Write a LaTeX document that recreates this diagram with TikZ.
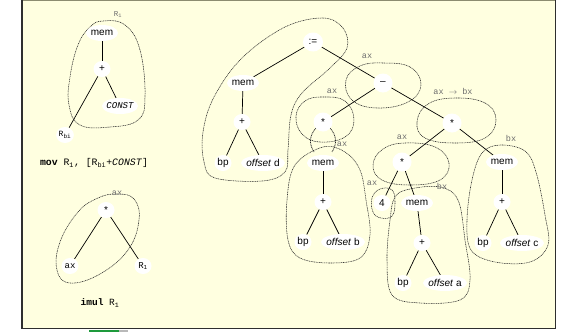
\documentclass[tikz,border=0pt]{standalone}
\usepackage{fontspec}
\setmainfont{Liberation Sans}
\setsansfont{Liberation Sans}
\setmonofont{Liberation Mono}
\usetikzlibrary{shapes.geometric}
\definecolor{bgy}{HTML}{FFFFE0}
\definecolor{lblg}{HTML}{6E6E6E}
\definecolor{frm}{HTML}{2E2E2E}
\definecolor{frmtop}{HTML}{8C8C70}
\definecolor{grn}{HTML}{1E9A3C}
\pgfdeclarelayer{bg}
\pgfdeclarelayer{bgbg}
\pgfsetlayers{bgbg,bg,main}
\newcommand{\myast}{\raisebox{-2.2pt}{*}}
\begin{document}
\begin{tikzpicture}[x=1pt,y=-1pt,
 tn/.style={fill=white, ellipse, inner xsep=-4pt, inner ysep=0pt, minimum height=16pt, minimum width=17pt, font=\fontsize{10}{12}\selectfont\sffamily},
 mn/.style={tn, minimum width=32pt},
 on/.style={tn, minimum width=44pt},
 tt/.style={font=\fontsize{9}{11}\selectfont\ttfamily},
 lbl/.style={text=lblg, font=\fontsize{8.5}{10}\selectfont\ttfamily, inner sep=0pt},
 blob/.style={draw=black!85, line width=0.55pt, dash pattern=on 1pt off 0.7pt},
 ed/.style={draw=black, line width=0.7pt}]
\useasboundingbox (0,0) rectangle (562,332);
% frame
\begin{pgfonlayer}{bgbg}
\fill[bgy] (21,0) rectangle (555,328);
\draw[frmtop, line width=1pt] (21,0.5) -- (555,0.5);
\draw[frm, line width=1.5pt] (21.75,0) -- (21.75,329);
\draw[frm, line width=1.5pt] (21,328.5) -- (556,328.5);
\draw[frm, line width=1.5pt] (555.25,0) -- (555.25,329);
\fill[grn] (89,330) rectangle (119,332);
\fill[gray!55] (119,330) rectangle (128,332);
\end{pgfonlayer}

% ---------- left top tree ----------
\node[mn] (m1) at (102,33) {mem};
\node[tn] (p1) at (102,69) {+};
\node[tn, minimum width=36pt, font=\fontsize{9}{11}\selectfont\ttfamily\itshape] (c1) at (120,106) {CONST};
\node[tn, tt, inner xsep=0pt, font=\fontsize{8}{10}\selectfont\ttfamily] (r1) at (65,135) {R\textsubscript{bi}};
\node[lbl, font=\fontsize{7.5}{9}\selectfont\ttfamily] (lr1) at (118,15) {R\textsubscript{1}};
\node[font=\fontsize{9.8}{11}\selectfont\ttfamily] (mov) at (94,163) {\textbf{mov} R\textsubscript{1}, [R\textsubscript{bi}+\textit{CONST}]};

% ---------- left bottom tree ----------
\node[lbl] (lax) at (117,193) {ax};
\node[tn] (s1) at (106,210) {\myast};
\node[tn, tt] (a1) at (70,266) {ax};
\node[tn, tt] (r2) at (143,266) {R\textsubscript{1}};
\node[font=\fontsize{9.5}{11}\selectfont\ttfamily] (imul) at (100,303) {\textbf{imul} R\textsubscript{1}};

% ---------- right tree ----------
\node[tn, minimum width=20pt, minimum height=19pt] (asg) at (313,42) {:=};
\node[mn] (md) at (243,83) {mem};
\node[tn] (pd) at (242,122) {+};
\node[tn] (bpd) at (223,163) {bp};
\node[on] (od) at (263,163) {\textit{offset} d};

\node[tn, minimum height=19pt, minimum width=19pt] (mi) at (383,83) {--};
\node[tn, minimum height=19pt, minimum width=19pt] (sm) at (323,122) {\myast};
\node[mn] (mb) at (323,163) {mem};
\node[tn] (pb) at (323,202) {+};
\node[tn] (bpb) at (303,242) {bp};
\node[on] (ob) at (343,242) {\textit{offset} b};

\node[tn, minimum height=19pt, minimum width=19pt] (sr) at (452,123) {\myast};
\node[tn, minimum height=19pt, minimum width=19pt] (sl) at (402,162) {\myast};
\node[tn] (four) at (382,203) {4};
\node[mn] (ma) at (417,203) {mem};
\node[tn] (pa) at (422,243) {+};
\node[tn] (bpa) at (403,283) {bp};
\node[on] (oa) at (445,283) {\textit{offset} a};

\node[mn] (mc) at (502,162) {mem};
\node[tn] (pc) at (502,202) {+};
\node[tn] (bpc) at (483,243) {bp};
\node[on] (oc) at (522,243) {\textit{offset} c};

% labels
\node[lbl] (l1) at (367,56) {ax};
\node[lbl] (l2) at (332,91) {ax};
\node[lbl] (l3) at (342,144) {ax};
\node[lbl] (l4) at (453,91) {ax $\rightarrow$ bx};
\node[lbl] (l5) at (402,137) {ax};
\node[lbl] (l6) at (511,138) {bx};
\node[lbl] (l7) at (372,183) {ax};
\node[lbl] (l8) at (442,186) {bx};

\begin{pgfonlayer}{bg}
% edges
\draw[ed] (m1) -- (p1);
\draw[ed] (p1) -- (r1);
\draw[ed] (p1) -- (c1);
\draw[ed] (s1) -- (a1);
\draw[ed] (s1) -- (r2);
\draw[ed] (asg) -- (md);
\draw[ed] (asg) -- (mi);
\draw[ed] (md) -- (pd);
\draw[ed] (pd) -- (bpd);
\draw[ed] (pd) -- (od);
\draw[ed] (mi) -- (sm);
\draw[ed] (mi) -- (sr);
\draw[ed] (mb) -- (pb);
\draw[ed] (pb) -- (bpb);
\draw[ed] (pb) -- (ob);
\draw[ed] (sr) -- (sl);
\draw[ed] (sr) -- (mc);
\draw[ed] (sl) -- (four);
\draw[ed] (sl) -- (ma);
\draw[ed] (ma) -- (pa);
\draw[ed] (pa) -- (bpa);
\draw[ed] (pa) -- (oa);
\draw[ed] (mc) -- (pc);
\draw[ed] (pc) -- (bpc);
\draw[ed] (pc) -- (oc);

% blobs
\draw[blob] plot[smooth cycle, tension=0.7] coordinates {(103,21) (125,25) (140,50) (145,97) (138,120) (110,127) (80,125) (69,105) (70,77) (78,45) (90,27)};
\draw[blob] plot[smooth cycle, tension=0.7] coordinates {(117,194) (134,199) (139,220) (128,250) (100,274) (70,283) (57,270) (60,242) (78,212) (98,198)};
\draw[blob] plot[smooth cycle, tension=0.6] coordinates {(323,18) (343,28) (347,48) (330,68) (302,93) (291,115) (288,150) (285,172) (262,181) (215,178) (204,162) (203,132) (214,97) (242,58) (285,27)};
\draw[blob] plot[smooth cycle, tension=0.7] coordinates {(383,63) (410,67) (421,85) (408,102) (377,108) (352,100) (346,80) (360,66)};
\draw[blob] plot[smooth cycle, tension=0.7] coordinates {(323,97) (345,101) (354,120) (345,137) (320,142) (302,134) (296,116) (305,101)};
\draw[blob, line width=0.75pt] (316,128) .. controls (309,136) and (309,144) .. (314,152);
\draw[blob, line width=0.75pt] (330,128) .. controls (337,136) and (337,144) .. (332,152);
\draw[blob] plot[smooth cycle, tension=0.6] coordinates {(323,147) (345,152) (360,170) (366,200) (370,235) (360,258) (330,263) (300,258) (288,240) (287,200) (295,165)};
\draw[blob] plot[smooth cycle, tension=0.7] coordinates {(455,98) (485,103) (496,120) (485,138) (455,143) (425,138) (417,122) (428,104)};
\draw[blob] plot[smooth cycle, tension=0.7] coordinates {(405,143) (435,147) (449,163) (440,180) (410,185) (382,180) (373,165) (383,149)};
\draw[blob] plot[smooth cycle, tension=0.7] coordinates {(380,189) (392,190) (395,203) (392,216) (381,218) (373,212) (372,198)};
\draw[blob] plot[smooth cycle, tension=0.6] coordinates {(410,189) (440,187) (458,200) (465,240) (470,280) (460,300) (420,303) (392,295) (387,260) (390,220) (395,197)};
\draw[blob] plot[smooth cycle, tension=0.6] coordinates {(500,145) (525,151) (536,172) (545,215) (548,245) (530,262) (495,262) (471,250) (467,220) (472,180) (482,153)};
\end{pgfonlayer}
\end{tikzpicture}
\end{document}
